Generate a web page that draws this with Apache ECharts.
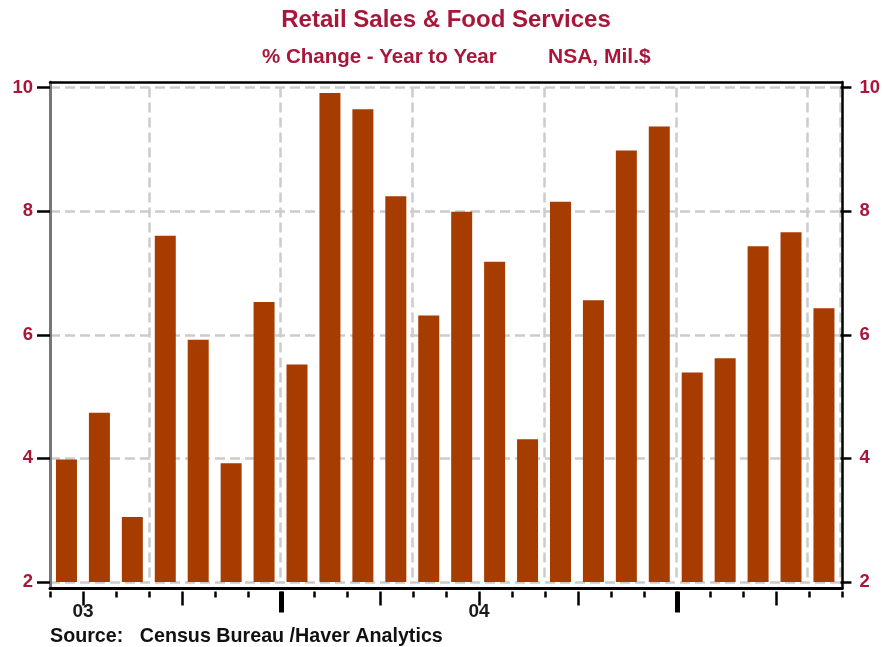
<!DOCTYPE html>
<html>
<head>
<meta charset="utf-8">
<script src="https://cdn.jsdelivr.net/npm/echarts@6/dist/echarts.min.js"></script>
<style>html,body{margin:0;padding:0;background:#fff;}#c{width:883px;height:647px;}</style>
</head>
<body>
<div id="c"></div>
<script>
// Monthly categories (Jun 2003 - May 2005)
const months = ['2003-06','2003-07','2003-08','2003-09','2003-10','2003-11','2003-12',
  '2004-01','2004-02','2004-03','2004-04','2004-05','2004-06','2004-07','2004-08','2004-09','2004-10','2004-11','2004-12',
  '2005-01','2005-02','2005-03','2005-04','2005-05'];
// % change year to year
const values = [3.98, 4.74, 3.05, 7.60, 5.92, 3.92, 6.53, 5.52, 9.91, 9.65, 8.24, 6.31,
  7.99, 7.18, 4.31, 8.15, 6.56, 8.98, 9.37, 5.39, 5.62, 7.43, 7.66, 6.43];
// tick labels / tick positions (month-boundary indices)
const yTicks = [2, 4, 6, 8, 10];
const quarterTicks = [1, 4, 10, 13, 16, 22];
const yearTicks = [7, 19];
const yearLabelPos = [1, 13];
const yearLabels = ['03', '04'];

const titleText = 'Retail Sales & Food Services';
const subLeft = '% Change - Year to Year';
const subRight = 'NSA, Mil.$';
const sourceText = 'Source:   Census Bureau /Haver Analytics';

const red = '#A8173A';
const font = "'Liberation Sans', Arial, sans-serif";
const chart = echarts.init(document.getElementById('c'), null, {renderer: 'canvas'});

const gridL = 50, gridR = 41;

chart.setOption({
  animation: false,
  backgroundColor: '#fff',
  title: [
    {text: titleText, left: 446, top: 8, textAlign: 'center', padding: 0,
     textStyle: {color: red, fontFamily: font, fontSize: 24, fontWeight: 'bold'}},
    {text: subLeft, left: 262, top: 47, padding: 0,
     textStyle: {color: red, fontFamily: font, fontSize: 20.5, fontWeight: 'bold'}},
    {text: subRight, left: 548, top: 47, padding: 0,
     textStyle: {color: red, fontFamily: font, fontSize: 21, fontWeight: 'bold'}},
    {text: sourceText, left: 50, top: 627, padding: 0,
     textStyle: {color: '#111', fontFamily: font, fontSize: 19.7, fontWeight: 'bold'}}
  ],
  grid: [
    {left: gridL, right: gridR, top: 87.5, bottom: 65},
    {left: gridL, right: gridR, top: 82, bottom: 58.5}
  ],
  xAxis: [
    // 0: data axis
    {type: 'category', data: months, gridIndex: 0, boundaryGap: true,
     axisLine:{show:false}, axisTick:{show:false}, axisLabel:{show:false},
     splitLine:{show:true, interval: function(i){ return i % 4 === 3; },
       lineStyle:{color:'#cccccc', width:2.5, type:[10,5]}}},
    // 1: frame bottom
    {type: 'value', gridIndex: 1, position: 'bottom', min: 0, max: 24,
     axisLine:{show:true, onZero:false, lineStyle:{color:'#000', width:3}}, axisTick:{show:false}, axisLabel:{show:false}, splitLine:{show:false}},
    // 2: frame top
    {type: 'value', gridIndex: 1, position: 'top', min: 0, max: 24,
     axisLine:{show:true, onZero:false, lineStyle:{color:'#000', width:2.5}}, axisTick:{show:false}, axisLabel:{show:false}, splitLine:{show:false}},
    // 3: monthly ticks
    {type: 'value', gridIndex: 1, position: 'bottom', offset: 3, min: 0, max: 24, interval: 1,
     axisLine:{show:false, onZero:false}, axisTick:{show:true, length:6, lineStyle:{color:'#000', width:2.5}},
     axisLabel:{show:false}, splitLine:{show:false}},
    // 4: quarter ticks + year labels
    {type: 'value', gridIndex: 1, position: 'bottom', offset: 3, min: 0, max: 24,
     axisLine:{show:false, onZero:false},
     axisTick:{show:true, length:14, customValues: quarterTicks, lineStyle:{color:'#000', width:2.5}},
     axisLabel:{show:true, customValues: yearLabelPos, margin: 11,
       formatter: function(v){ const i = yearLabelPos.indexOf(v); return i >= 0 ? yearLabels[i] : ''; },
       color:'#1a1a1a', fontFamily: font, fontSize: 19, fontWeight: 'bold'},
     splitLine:{show:false}},
    // 5: year ticks
    {type: 'value', gridIndex: 1, position: 'bottom', offset: 3, min: 0, max: 24,
     axisLine:{show:false, onZero:false},
     axisTick:{show:true, length:21, customValues: yearTicks, lineStyle:{color:'#000', width:5}},
     axisLabel:{show:false}, splitLine:{show:false}}
  ],
  yAxis: [
    {type: 'value', gridIndex: 0, position: 'left', min: 2, max: 10, interval: 2,
     axisLine:{show:false, onZero:false},
     axisTick:{show:true, length:13, lineStyle:{color:'#000', width:2.5}},
     axisLabel:{show:true, margin:17, color: red, fontFamily: font, fontSize: 18.5, fontWeight: 'bold'},
     splitLine:{show:true, lineStyle:{color:'#cccccc', width:2.5, type:[10,5]}}},
    {type: 'value', gridIndex: 0, position: 'right', min: 2, max: 10, interval: 2,
     axisLine:{show:false, onZero:false},
     axisTick:{show:true, length:11, lineStyle:{color:'#000', width:2.5}},
     axisLabel:{show:true, margin:19, color: red, fontFamily: font, fontSize: 18.5, fontWeight: 'bold'},
     splitLine:{show:false}},
    // frame left (gray)
    {type: 'value', gridIndex: 1, position: 'left', min: 0, max: 1,
     axisLine:{show:true, onZero:false, lineStyle:{color:'#777', width:3}}, axisTick:{show:false}, axisLabel:{show:false}, splitLine:{show:false}},
    // frame right (black)
    {type: 'value', gridIndex: 1, position: 'right', min: 0, max: 1,
     axisLine:{show:true, onZero:false, lineStyle:{color:'#000', width:2.5}}, axisTick:{show:false}, axisLabel:{show:false}, splitLine:{show:false}}
  ],
  series: [
    {type: 'bar', xAxisIndex: 0, yAxisIndex: 0, data: values, barWidth: 21,
     itemStyle:{color:'#A63C00'}}
  ]
});
</script>
</body>
</html>
